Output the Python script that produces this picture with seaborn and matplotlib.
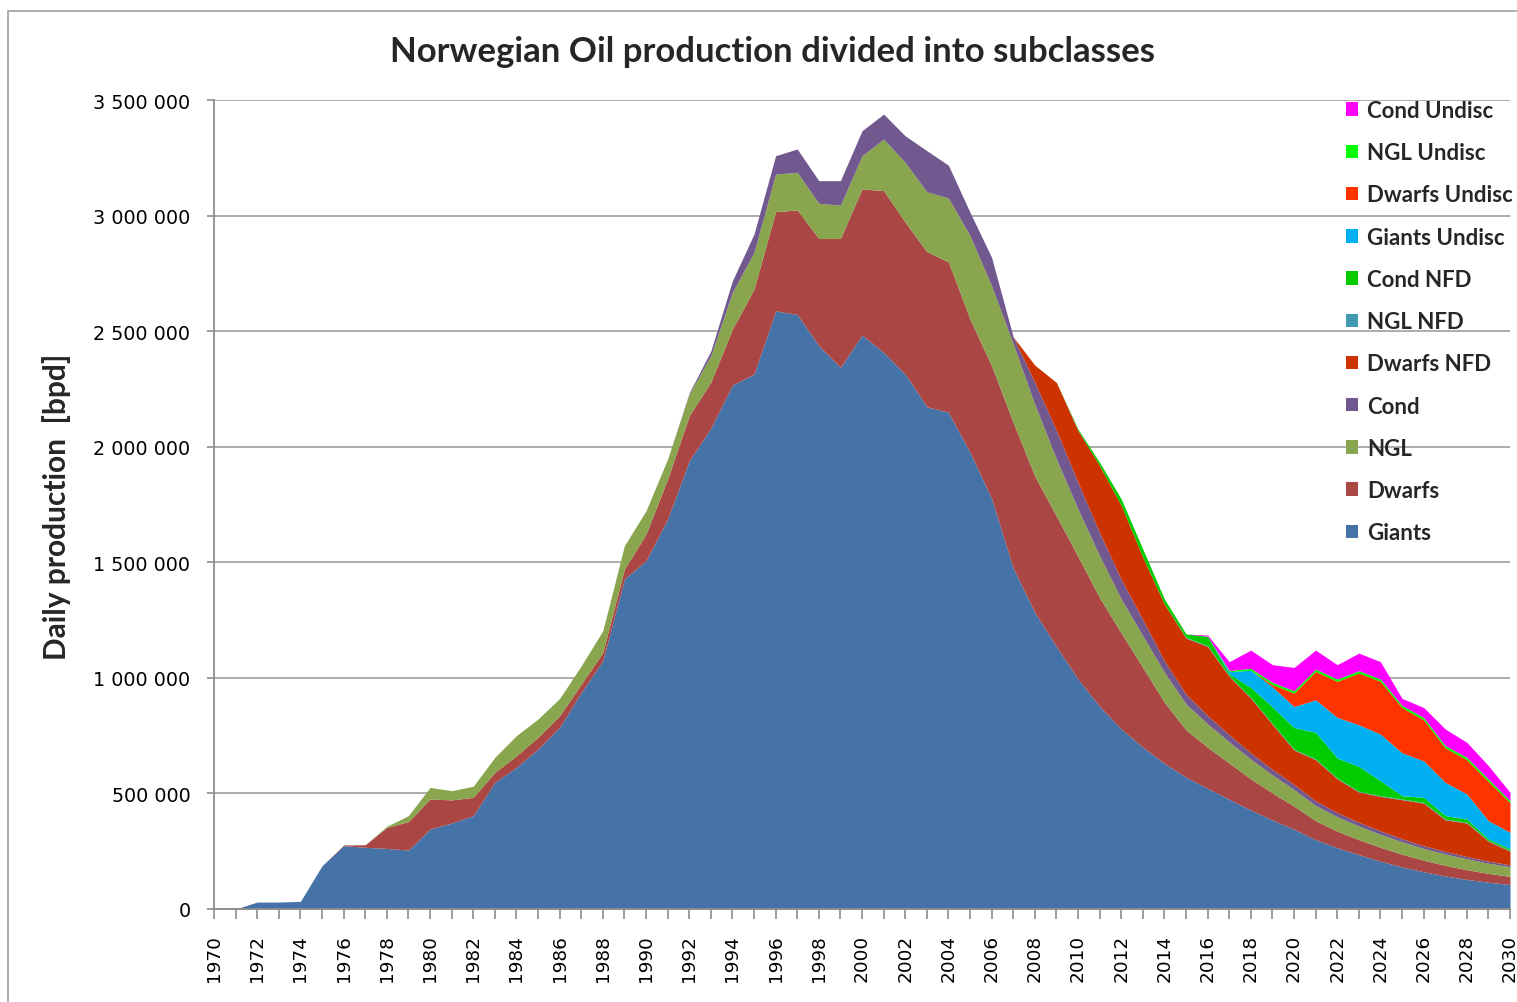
import matplotlib
matplotlib.use("Agg")
import numpy as np
import pandas as pd
import seaborn as sns
import matplotlib.pyplot as plt
from matplotlib.ticker import FuncFormatter, MultipleLocator
from matplotlib.patches import Rectangle
from matplotlib.font_manager import FontProperties

# ---------------- data (thousand barrels per day) ----------------
years = list(range(1970, 2031))

giants = [0, 0, 30, 30, 33, 187, 274, 267, 262, 255,
          346, 372, 404, 548, 613, 692, 786, 937, 1074, 1428,
          1507, 1687, 1939, 2080, 2267, 2314, 2588, 2572, 2437, 2343,
          2483, 2408, 2314, 2173, 2149, 1976, 1776, 1475, 1283, 1135,
          995, 877, 779, 700, 630, 570, 522, 475, 428, 385,
          345, 300, 265, 235, 207, 182, 161, 143, 128, 116, 106]

dwarfs = [0, 0, 0, 0, 0, 0, 3, 11, 91, 123,
          130, 100, 79, 43, 50, 51, 50, 36, 36, 43,
          115, 173, 195, 200, 242, 368, 429, 452, 464, 558,
          632, 700, 657, 671, 651, 576, 574, 630, 590, 565,
          530, 470, 415, 345, 264, 205, 178, 156, 135, 117,
          100, 82, 72, 65, 60, 55, 50, 46, 42, 38, 35]

ngl = [0, 0, 0, 0, 0, 0, 0, 0, 5, 26,
       50, 40, 48, 65, 87, 79, 75, 79, 94, 101,
       101, 87, 94, 114, 159, 159, 163, 163, 152, 144,
       144, 223, 259, 259, 276, 361, 346, 340, 310, 247,
       205, 181, 147, 137, 130, 112, 101, 92, 85, 78,
       72, 66, 62, 59, 56, 54, 51, 49, 47, 44, 42]

cond = [0, 0, 0, 0, 0, 0, 0, 0, 0, 0,
        0, 0, 0, 0, 0, 0, 0, 0, 0, 0,
        0, 0, 5, 20, 50, 79, 79, 101, 98, 106,
        108, 108, 115, 178, 142, 101, 123, 30, 95, 124,
        115, 100, 85, 70, 50, 42, 36, 31, 27, 24,
        22, 20, 18, 16, 15, 13, 12, 11, 10, 9, 8]

dwarfs_nfd = [0] * 38 + [75, 207,
              225, 290, 320, 270, 245, 243, 299, 252, 237, 195,
              149, 178, 146, 131, 149, 169, 184, 137, 145, 86, 59]

ngl_nfd = [0] * 45 + [3, 3, 3, 3, 3, 3, 3, 3, 3, 3, 3, 3, 3, 3, 3, 3]

cond_nfd = [0] * 40 + [6, 14, 28, 35, 22, 15, 41, 8, 43, 72,
                       94, 115, 87, 108, 65, 14, 22, 15, 14, 7, 7]

giants_undisc = [0] * 47 + [10, 75, 87, 91, 141, 176, 180, 202, 186, 158, 144, 109, 79, 72]

dwarfs_undisc = [0] * 49 + [10, 58, 123, 156, 224, 228, 195, 178, 149, 148, 170, 128]

ngl_undisc = [0] * 47 + [5, 8, 10, 10, 10, 10, 10, 10, 10, 10, 10, 10, 10, 9]

cond_undisc = [0] * 46 + [5, 38, 79, 76, 101, 82, 62, 76, 75, 30, 43, 72, 65, 58, 36]

series_names = ["Giants", "Dwarfs", "NGL", "Cond", "Dwarfs NFD", "NGL NFD",
                "Cond NFD", "Giants Undisc", "Dwarfs Undisc", "NGL Undisc", "Cond Undisc"]
series_vals = [giants, dwarfs, ngl, cond, dwarfs_nfd, ngl_nfd,
               cond_nfd, giants_undisc, dwarfs_undisc, ngl_undisc, cond_undisc]
series_colors = ["#4572A7", "#AA4643", "#89A54E", "#71588F", "#CC3300", "#4198AF",
                 "#00CC00", "#00B0F0", "#FF3300", "#00FF00", "#FF00FF"]

df = pd.DataFrame({n: np.array(v) * 1000 for n, v in zip(series_names, series_vals)}, index=years)

# ---------------- figure ----------------
sns.set_theme(style="white")
plt.rcParams['font.family'] = ['DejaVu Sans']

W, H = 1517, 1003
fig = plt.figure(figsize=(W / 100, H / 100), dpi=100)
fig.patch.set_facecolor("white")
ax = fig.add_axes([214 / W, 1 - 910 / H, (1510 - 214) / W, (910 - 101) / H])

ax.stackplot(df.index, [df[c].values for c in series_names],
             colors=series_colors, labels=series_names, linewidth=0)

ax.set_xlim(1970, 2030)
ax.set_ylim(0, 3500000)
ax.yaxis.set_major_locator(MultipleLocator(500000))
ax.yaxis.set_major_formatter(FuncFormatter(lambda v, p: f"{int(v):,}".replace(",", " ")))
ax.set_xticks(list(range(1970, 2031, 2)))
ax.set_xticks(list(range(1970, 2031, 1)), minor=True)
ax.set_xticklabels([str(y) for y in range(1970, 2031, 2)], rotation=90)

ax.set_axisbelow(True)
ax.grid(axis='y', color='#a6a6a6', linewidth=1.3)
ax.grid(axis='x', visible=False)
for s in ["top", "right"]:
    ax.spines[s].set_visible(False)
for s in ["left", "bottom"]:
    ax.spines[s].set_color('#8c8c8c')
    ax.spines[s].set_linewidth(1.3)

ax.tick_params(axis='y', which='major', direction='out', length=5, width=1.2,
               color='#8c8c8c', pad=12, labelsize=13.8, labelcolor='black', left=True)
ax.tick_params(axis='x', which='both', direction='out', length=7, width=1.2,
               color='#8c8c8c', bottom=True)
ax.tick_params(axis='x', which='major', pad=11, labelsize=13.3, labelcolor='black')

# title and y label
fig.text(773 / W, 1 - 52 / H, "Norwegian Oil production divided into subclasses",
         ha='center', va='center', fontsize=25, fontweight='bold', family=['Lato', 'DejaVu Sans'])
fig.text(57 / W, 1 - 507 / H, "Daily production  [bpd]", rotation=90,
         ha='center', va='center', fontsize=21.5, fontweight='bold', family=['Lato', 'DejaVu Sans'])

# legend
handles, labels = ax.get_legend_handles_labels()
leg = ax.legend(handles[::-1], labels[::-1], loc='upper left',
                bbox_to_anchor=(1346 / W, 1 - 101 / H), bbox_transform=fig.transFigure,
                frameon=False, prop=FontProperties(family=['Lato', 'DejaVu Sans'], weight='bold', size=16),
                handlelength=0.55, handleheight=0.55, handletextpad=0.4,
                labelspacing=0.955, borderpad=0, borderaxespad=0)

# chart border
fig.patches.append(Rectangle((8 / W, -0.05), 1.2, (H - 12) / H + 0.05, transform=fig.transFigure,
                             fill=False, edgecolor='#a0a0a0', linewidth=1.2))

fig.savefig("out.png", dpi=100)
